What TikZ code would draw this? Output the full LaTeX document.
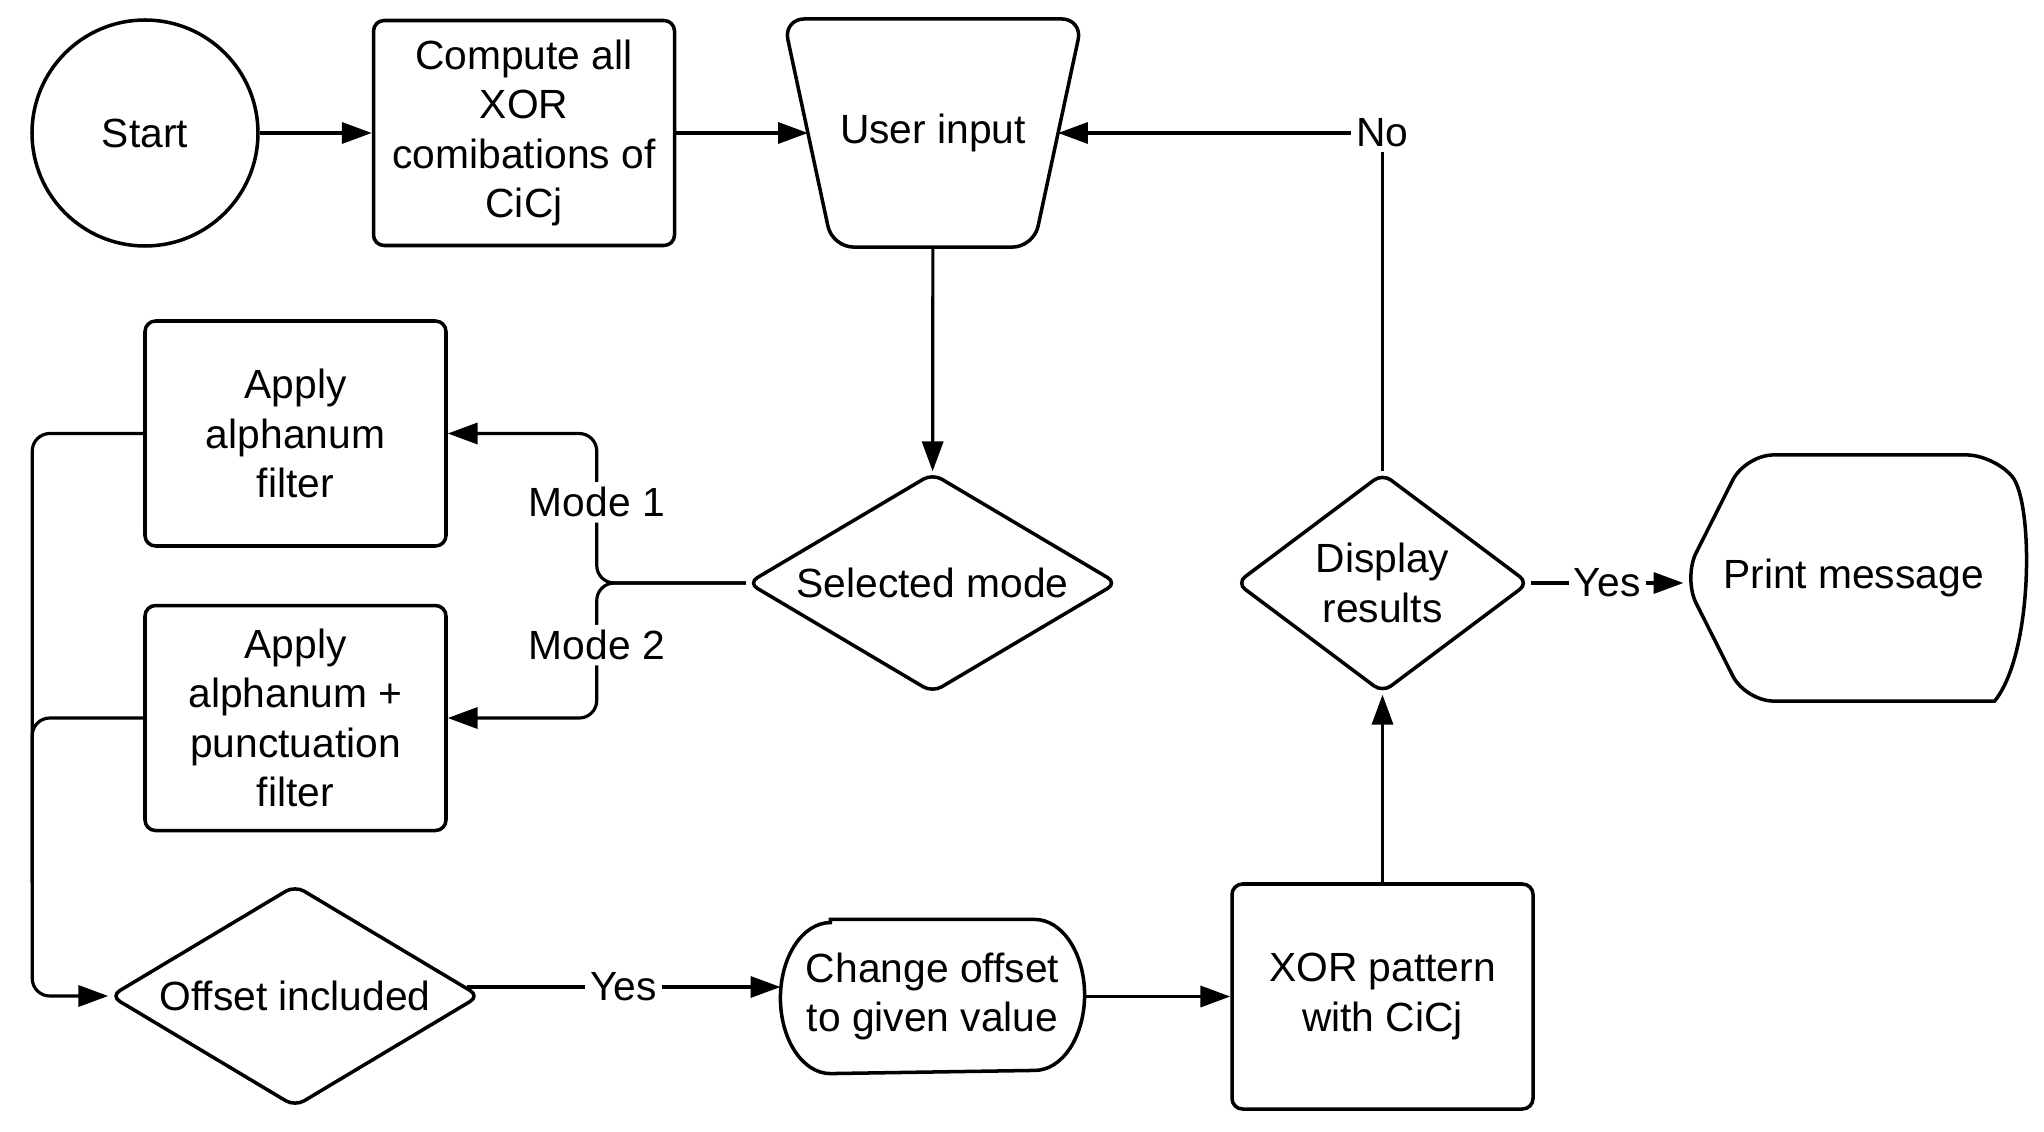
\documentclass[tikz,border=0pt]{standalone}
\usepackage{fontspec}
\setmainfont{Liberation Sans}
\usepackage{tikz}
\usetikzlibrary{shapes.geometric,arrows.meta,positioning}

\begin{document}
\begin{tikzpicture}[
  font=\fontsize{11.6}{14}\selectfont,
  line width=0.9pt,
  box/.style={rectangle,rounded corners=3pt,draw,line width=1pt,fill=white,
    align=center,minimum width=3.01cm,minimum height=2.25cm,inner sep=2pt},
  decision/.style={diamond,rounded corners=3pt,draw,line width=1pt,fill=white,
    align=center,inner sep=0pt,minimum height=2.2cm},
  outline/.style={line width=1pt,rounded corners=6pt},
  lbl/.style={fill=white,inner sep=1.5pt},
  arrow/.style={-{Triangle[length=8.5pt,width=6pt]}},
  elbow/.style={rounded corners=5pt}
]
\useasboundingbox (0,0) rectangle (20.44,-11.32);

\node[circle,draw,line width=1pt,minimum size=2.26cm] (start) at (1.45,-1.33) {Start};
\node[box, right=1.12cm of start] (comp) {Compute all\\ XOR\\ comibations of\\ CiCj};
\node[minimum width=2.96cm,minimum height=2.25cm] (user) at (9.33,-1.33) {User input};
\node[decision, minimum width=3.7cm, shape aspect=1.68] (sel) at (9.325,-5.83) {Selected mode};
\node[box] (alph) at (2.955,-4.335) {Apply\\ alphanum\\ filter};
\node[box, below=0.56cm of alph] (punc) {Apply\\ alphanum +\\ punctuation\\ filter};
\node[decision, minimum width=3.7cm, minimum height=2.22cm, shape aspect=1.67] (off) at (2.95,-9.96) {Offset included};
\node[minimum width=3.01cm,minimum height=1.51cm,align=center] (chg) at (9.325,-9.965) {Change offset\\ to given value};
\node[box] (xorp) at (13.825,-9.965) {XOR pattern\\ with CiCj};
\node[decision, minimum width=2.93cm, shape aspect=1.33] (disp) at (13.825,-5.83) {Display\\ results};
\node[minimum width=3.37cm,minimum height=2.43cm] (prt) at (18.535,-5.78) {Print message};

% outlines drawn by hand
\draw[outline] (user.north west) -- (user.north east) -- ([xshift=-0.49cm]user.south east)
  -- ([xshift=0.49cm]user.south west) -- cycle;
\draw[line width=1pt] ([xshift=0.5cm]chg.north west) -- ([xshift=-0.5cm]chg.north east)
  arc[start angle=90,end angle=-90,x radius=0.5cm,y radius=0.755cm]
  -- ([xshift=0.5cm]chg.south west)
  arc[start angle=270,end angle=90,x radius=0.5cm,y radius=0.755cm] -- cycle;
\draw[outline,rounded corners=8pt] (prt.west) -- ([xshift=0.62cm]prt.north west)
  -- ([xshift=-0.29cm]prt.north east) [sharp corners]
  .. controls ([shift={(0.1cm,-0.48cm)}]prt.north east) and ([shift={(0.1cm,0.48cm)}]prt.south east)
  .. ([xshift=-0.29cm]prt.south east) [rounded corners=8pt]
  -- ([xshift=0.62cm]prt.south west) -- cycle;

\foreach \s/\t in {start/comp,user/sel,chg/xorp,xorp/disp}
  \draw[arrow] (\s)--(\t);
\draw[arrow] (comp) -- ([xshift=0.245cm]user.west);

\coordinate[left=1.49cm of sel.west] (jn);
\draw[arrow,elbow] (sel.west) -- (jn) |- node[lbl,pos=0.27]{Mode 1} (alph.east);
\draw[arrow,elbow] (sel.west) -- (jn) |- node[lbl,pos=0.23]{Mode 2} (punc.east);

\coordinate[left=1.11cm of alph.west] (bus);
\draw[arrow,elbow] (alph.west) -- (bus) |- (off.west);
\draw[elbow] (punc.west) -- (bus |- punc.west) -- (bus |- off.north);

\draw[arrow] (off.3) -- node[lbl]{Yes} (off.3 -| chg.west);
\draw[arrow] (disp.east) -- node[lbl]{Yes} (disp.east -| prt.west);
\draw[arrow] (disp.north) |- node[lbl,pos=0.5]{No} ([xshift=-0.245cm]user.east);
\end{tikzpicture}
\end{document}
